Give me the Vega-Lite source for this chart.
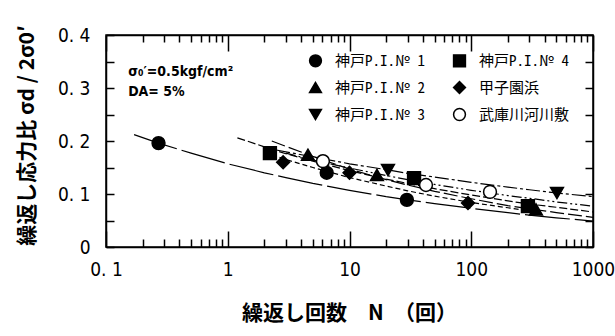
{
  "$schema": "https://vega.github.io/schema/vega-lite/v6.json",
  "width": 487,
  "height": 212,
  "autosize": {"type": "none"},
  "padding": {"left": 106, "top": 35, "right": 22, "bottom": 89},
  "background": "white",
  "config": {
    "view": {"stroke": "black", "strokeWidth": 1.5},
    "axis": {"domainColor": "black", "domainWidth": 1.5, "tickColor": "black", "tickWidth": 1.5, "grid": false, "labelColor": "black", "titleColor": "black"}
  },
  "datasets": {
    "pts": [
      {"series": "神戸P.I.№ 1", "N": 0.27, "s": 0.196},
      {"series": "神戸P.I.№ 1", "N": 6.5, "s": 0.140},
      {"series": "神戸P.I.№ 1", "N": 29.6, "s": 0.089},
      {"series": "神戸P.I.№ 2", "N": 4.56, "s": 0.174},
      {"series": "神戸P.I.№ 2", "N": 16.8, "s": 0.136},
      {"series": "神戸P.I.№ 2", "N": 340, "s": 0.071},
      {"series": "神戸P.I.№ 3", "N": 20.7, "s": 0.145},
      {"series": "神戸P.I.№ 3", "N": 506, "s": 0.102},
      {"series": "神戸P.I.№ 4", "N": 2.22, "s": 0.177},
      {"series": "神戸P.I.№ 4", "N": 33.9, "s": 0.130},
      {"series": "神戸P.I.№ 4", "N": 292, "s": 0.077},
      {"series": "甲子園浜", "N": 2.85, "s": 0.160},
      {"series": "甲子園浜", "N": 10, "s": 0.140},
      {"series": "甲子園浜", "N": 94, "s": 0.083},
      {"series": "武庫川河川敷", "N": 6.05, "s": 0.162},
      {"series": "武庫川河川敷", "N": 42.5, "s": 0.117},
      {"series": "武庫川河川敷", "N": 142.6, "s": 0.104}
    ],
    "curves": [
      {"series": "神戸P.I.№ 1", "N": 0.17, "s": 0.212},
      {"series": "神戸P.I.№ 1", "N": 0.27, "s": 0.196},
      {"series": "神戸P.I.№ 1", "N": 0.5, "s": 0.177},
      {"series": "神戸P.I.№ 1", "N": 1, "s": 0.157},
      {"series": "神戸P.I.№ 1", "N": 2, "s": 0.140},
      {"series": "神戸P.I.№ 1", "N": 3, "s": 0.131},
      {"series": "神戸P.I.№ 1", "N": 5, "s": 0.120},
      {"series": "神戸P.I.№ 1", "N": 10, "s": 0.107},
      {"series": "神戸P.I.№ 1", "N": 20, "s": 0.095},
      {"series": "神戸P.I.№ 1", "N": 30, "s": 0.089},
      {"series": "神戸P.I.№ 1", "N": 50, "s": 0.082},
      {"series": "神戸P.I.№ 1", "N": 100, "s": 0.073},
      {"series": "神戸P.I.№ 1", "N": 200, "s": 0.065},
      {"series": "神戸P.I.№ 1", "N": 300, "s": 0.060},
      {"series": "神戸P.I.№ 1", "N": 500, "s": 0.055},
      {"series": "神戸P.I.№ 1", "N": 1000, "s": 0.049},
      {"series": "神戸P.I.№ 2", "N": 2.3, "s": 0.200},
      {"series": "神戸P.I.№ 2", "N": 3, "s": 0.190},
      {"series": "神戸P.I.№ 2", "N": 5, "s": 0.171},
      {"series": "神戸P.I.№ 2", "N": 10, "s": 0.147},
      {"series": "神戸P.I.№ 2", "N": 20, "s": 0.127},
      {"series": "神戸P.I.№ 2", "N": 30, "s": 0.117},
      {"series": "神戸P.I.№ 2", "N": 50, "s": 0.105},
      {"series": "神戸P.I.№ 2", "N": 100, "s": 0.091},
      {"series": "神戸P.I.№ 2", "N": 200, "s": 0.078},
      {"series": "神戸P.I.№ 2", "N": 300, "s": 0.072},
      {"series": "神戸P.I.№ 2", "N": 500, "s": 0.065},
      {"series": "神戸P.I.№ 2", "N": 1000, "s": 0.056},
      {"series": "神戸P.I.№ 3", "N": 2.5, "s": 0.183},
      {"series": "神戸P.I.№ 3", "N": 5, "s": 0.170},
      {"series": "神戸P.I.№ 3", "N": 10, "s": 0.157},
      {"series": "神戸P.I.№ 3", "N": 20, "s": 0.146},
      {"series": "神戸P.I.№ 3", "N": 30, "s": 0.139},
      {"series": "神戸P.I.№ 3", "N": 50, "s": 0.132},
      {"series": "神戸P.I.№ 3", "N": 100, "s": 0.122},
      {"series": "神戸P.I.№ 3", "N": 200, "s": 0.113},
      {"series": "神戸P.I.№ 3", "N": 300, "s": 0.108},
      {"series": "神戸P.I.№ 3", "N": 500, "s": 0.102},
      {"series": "神戸P.I.№ 3", "N": 1000, "s": 0.095},
      {"series": "神戸P.I.№ 4", "N": 1.2, "s": 0.206},
      {"series": "神戸P.I.№ 4", "N": 2, "s": 0.189},
      {"series": "神戸P.I.№ 4", "N": 3, "s": 0.176},
      {"series": "神戸P.I.№ 4", "N": 5, "s": 0.162},
      {"series": "神戸P.I.№ 4", "N": 10, "s": 0.144},
      {"series": "神戸P.I.№ 4", "N": 20, "s": 0.128},
      {"series": "神戸P.I.№ 4", "N": 30, "s": 0.120},
      {"series": "神戸P.I.№ 4", "N": 50, "s": 0.110},
      {"series": "神戸P.I.№ 4", "N": 100, "s": 0.098},
      {"series": "神戸P.I.№ 4", "N": 200, "s": 0.087},
      {"series": "神戸P.I.№ 4", "N": 300, "s": 0.081},
      {"series": "神戸P.I.№ 4", "N": 500, "s": 0.075},
      {"series": "神戸P.I.№ 4", "N": 1000, "s": 0.066},
      {"series": "甲子園浜", "N": 2, "s": 0.179},
      {"series": "甲子園浜", "N": 3, "s": 0.165},
      {"series": "甲子園浜", "N": 5, "s": 0.150},
      {"series": "甲子園浜", "N": 10, "s": 0.131},
      {"series": "甲子園浜", "N": 20, "s": 0.115},
      {"series": "甲子園浜", "N": 30, "s": 0.106},
      {"series": "甲子園浜", "N": 50, "s": 0.096},
      {"series": "甲子園浜", "N": 100, "s": 0.084},
      {"series": "甲子園浜", "N": 200, "s": 0.074},
      {"series": "甲子園浜", "N": 300, "s": 0.068},
      {"series": "武庫川河川敷", "N": 3, "s": 0.177},
      {"series": "武庫川河川敷", "N": 5, "s": 0.164},
      {"series": "武庫川河川敷", "N": 10, "s": 0.149},
      {"series": "武庫川河川敷", "N": 20, "s": 0.135},
      {"series": "武庫川河川敷", "N": 30, "s": 0.127},
      {"series": "武庫川河川敷", "N": 50, "s": 0.118},
      {"series": "武庫川河川敷", "N": 100, "s": 0.107},
      {"series": "武庫川河川敷", "N": 200, "s": 0.097},
      {"series": "武庫川河川敷", "N": 300, "s": 0.092},
      {"series": "武庫川河川敷", "N": 500, "s": 0.085},
      {"series": "武庫川河川敷", "N": 1000, "s": 0.077}
    ]
  },
  "layer": [
    {
      "data": {"name": "curves"},
      "mark": {"type": "line", "color": "black", "strokeWidth": 1.2},
      "encoding": {
        "x": {
          "field": "N", "type": "quantitative",
          "scale": {"type": "log", "domain": [0.1, 1000], "nice": false},
          "axis": {
            "orient": "bottom",
            "values": [0.1,0.2,0.3,0.4,0.5,0.6,0.7,0.8,0.9,1,2,3,4,5,6,7,8,9,10,20,30,40,50,60,70,80,90,100,200,300,400,500,600,700,800,900,1000],
            "tickSize": {"condition": {"test": "datum.value == 0.1 || datum.value == 1 || datum.value == 10 || datum.value == 100 || datum.value == 1000", "value": -16}, "value": -8},
            "tickColor": "black",
            "labelExpr": "datum.value == 0.1 ? '0. 1' : ((datum.value == 1 || datum.value == 10 || datum.value == 100 || datum.value == 1000) ? format(datum.value, 'd') : '')",
            "labelFont": "Liberation Sans Narrow, DejaVu Sans Condensed, sans-serif",
            "labelFontSize": 19,
            "labelPadding": 29,
            "labelOverlap": false,
            "labelFlush": false,
            "labelBound": false,
            "title": "繰返し回数　N　（回）",
            "titleFont": "Noto Sans CJK JP",
            "titleFontSize": 21,
            "titleFontWeight": "bold",
            "titleX": 243,
            "titleY": 55,
            "titleAlign": "center",
            "titleBaseline": "top"
          }
        },
        "y": {
          "field": "s", "type": "quantitative",
          "scale": {"domain": [0, 0.4], "nice": false, "zero": true},
          "axis": {
            "orient": "left",
            "values": [0, 0.05, 0.1, 0.15, 0.2, 0.25, 0.3, 0.35, 0.4],
            "tickSize": {"condition": {"test": "datum.value >= 0", "value": -8}, "value": -8},
            "tickColor": "black",
            "labelExpr": "datum.value == 0 ? '0' : (abs(datum.value*10 - round(datum.value*10)) < 0.000001 ? replace(format(datum.value, '.1f'), '.', '. ') : '')",
            "labelFont": "Liberation Sans Narrow, DejaVu Sans Condensed, sans-serif",
            "labelFontSize": 19,
            "labelPadding": 24,
            "labelOverlap": false,
            "labelFlush": false,
            "labelBound": false,
            "title": "繰返し応力比 σd / 2σ0′",
            "titleFont": "Noto Sans CJK JP",
            "titleFontSize": 21,
            "titleFontWeight": "bold",
            "titleX": -69,
            "titleY": 100,
            "titleAlign": "center",
            "titleBaseline": "bottom"
          }
        },
        "detail": {"field": "series"},
        "strokeDash": {
          "field": "series", "type": "nominal",
          "scale": {
            "domain": ["武庫川河川敷", "甲子園浜", "神戸P.I.№ 4", "神戸P.I.№ 3", "神戸P.I.№ 2", "神戸P.I.№ 1"],
            "range": [[10, 3, 2, 3, 2, 3], [5, 3], [8, 3], [14, 3, 3, 3], [14, 4], [45, 5]]
          },
          "legend": null
        }
      }
    },
    {
      "data": {"name": "pts"},
      "mark": {"type": "point", "filled": true, "size": 165, "strokeWidth": 1.5, "opacity": 1},
      "encoding": {
        "x": {
          "field": "N", "type": "quantitative",
          "scale": {"type": "log", "domain": [0.1, 1000], "nice": false},
          "axis": {
            "orient": "top",
            "values": [0.1,0.2,0.3,0.4,0.5,0.6,0.7,0.8,0.9,1,2,3,4,5,6,7,8,9,10,20,30,40,50,60,70,80,90,100,200,300,400,500,600,700,800,900,1000],
            "tickSize": {"condition": {"test": "datum.value == 0.1 || datum.value == 1 || datum.value == 10 || datum.value == 100 || datum.value == 1000", "value": -16}, "value": -7},
            "tickColor": "black",
            "labels": false,
            "title": null
          }
        },
        "y": {
          "field": "s", "type": "quantitative",
          "scale": {"domain": [0, 0.4], "nice": false, "zero": true},
          "axis": {
            "orient": "right",
            "values": [0, 0.05, 0.1, 0.15, 0.2, 0.25, 0.3, 0.35, 0.4],
            "tickSize": {"condition": {"test": "datum.value >= 0", "value": -8}, "value": -8},
            "tickColor": "black",
            "labels": false,
            "title": null
          }
        },
        "shape": {
          "field": "series", "type": "nominal",
          "scale": {
            "domain": ["神戸P.I.№ 1", "神戸P.I.№ 2", "神戸P.I.№ 3", "神戸P.I.№ 4", "甲子園浜", "武庫川河川敷"],
            "range": ["circle", "triangle-up", "triangle-down", "square", "diamond", "circle"]
          },
          "legend": {
            "title": null, "orient": "none", "legendX": 202, "legendY": 18, "columns": 2,
            "columnPadding": 25, "rowPadding": 8, "padding": 0,
            "symbolSize": 140, "symbolStrokeWidth": 1.5,
            "labelFont": "Noto Sans Mono CJK JP, Noto Sans CJK JP", "labelFontSize": 15, "labelColor": "black", "labelOffset": 12, "labelLimit": 200
          }
        },
        "fill": {
          "field": "series", "type": "nominal",
          "scale": {
            "domain": ["神戸P.I.№ 1", "神戸P.I.№ 2", "神戸P.I.№ 3", "神戸P.I.№ 4", "甲子園浜", "武庫川河川敷"],
            "range": ["black", "black", "black", "black", "black", "white"]
          },
          "legend": {
            "title": null, "orient": "none", "legendX": 202, "legendY": 18, "columns": 2,
            "columnPadding": 25, "rowPadding": 8, "padding": 0,
            "symbolSize": 140, "symbolStrokeWidth": 1.5,
            "labelFont": "Noto Sans Mono CJK JP, Noto Sans CJK JP", "labelFontSize": 15, "labelColor": "black", "labelOffset": 12, "labelLimit": 200
          }
        },
        "stroke": {
          "field": "series", "type": "nominal",
          "scale": {
            "domain": ["神戸P.I.№ 1", "神戸P.I.№ 2", "神戸P.I.№ 3", "神戸P.I.№ 4", "甲子園浜", "武庫川河川敷"],
            "range": ["black", "black", "black", "black", "black", "black"]
          },
          "legend": {
            "title": null, "orient": "none", "legendX": 202, "legendY": 18, "columns": 2,
            "columnPadding": 25, "rowPadding": 8, "padding": 0,
            "symbolSize": 140, "symbolStrokeWidth": 1.5,
            "labelFont": "Noto Sans Mono CJK JP, Noto Sans CJK JP", "labelFontSize": 15, "labelColor": "black", "labelOffset": 12, "labelLimit": 200
          }
        }
      }
    },
    {
      "data": {"values": [{}]},
      "mark": {"type": "text", "align": "left", "baseline": "middle", "font": "Liberation Sans Narrow, DejaVu Sans Condensed, sans-serif", "fontSize": 14, "fontWeight": "bold", "color": "black"},
      "encoding": {
        "x": {"datum": 0.152, "type": "quantitative", "scale": {"type": "log", "domain": [0.1, 1000], "nice": false}, "axis": null},
        "y": {"datum": 0.33, "type": "quantitative", "scale": {"domain": [0, 0.4], "nice": false, "zero": true}, "axis": null},
        "text": {"value": "σ₀′=0.5kgf/cm²"}
      }
    },
    {
      "data": {"values": [{}]},
      "mark": {"type": "text", "align": "left", "baseline": "middle", "font": "Liberation Sans Narrow, DejaVu Sans Condensed, sans-serif", "fontSize": 14, "fontWeight": "bold", "color": "black"},
      "encoding": {
        "x": {"datum": 0.152, "type": "quantitative", "scale": {"type": "log", "domain": [0.1, 1000], "nice": false}, "axis": null},
        "y": {"datum": 0.292, "type": "quantitative", "scale": {"domain": [0, 0.4], "nice": false, "zero": true}, "axis": null},
        "text": {"value": "DA= 5%"}
      }
    }
  ],
  "resolve": {"axis": {"x": "independent", "y": "independent"}}
}
